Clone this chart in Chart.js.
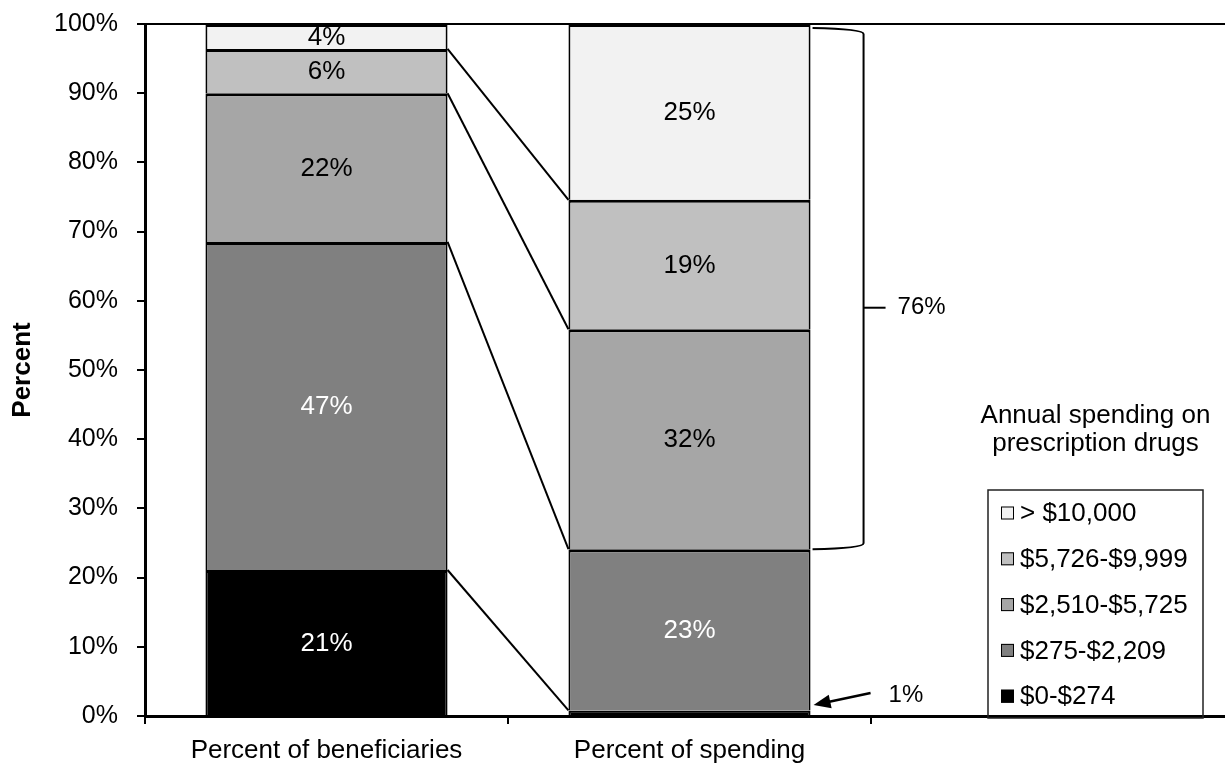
<!DOCTYPE html>
<html>
<head>
<meta charset="utf-8">
<script src="https://cdn.jsdelivr.net/npm/chart.js@4.4.0/dist/chart.umd.min.js"></script>
<style>
  html, body { margin: 0; padding: 0; background: #fff; overflow: hidden; }
  #wrap { width: 1240px; height: 769px; }
</style>
</head>
<body>
<div id="wrap"><canvas id="chart" width="1240" height="769"></canvas></div>
<script>
// ---- data ----
const categories    = ['Percent of beneficiaries', 'Percent of spending', ''];
const seriesLabels  = ['$0-$274', '$275-$2,209', '$2,510-$5,725', '$5,726-$9,999', '> $10,000'];
const beneficiaries = [21.1, 47.4, 21.5, 6.4, 3.6];
const spending      = [0.8, 23.3, 31.8, 18.7, 25.4];
const yTickValues   = [0, 10, 20, 30, 40, 50, 60, 70, 80, 90, 100];
const legendTitle   = ['Annual spending on', 'prescription drugs'];

// ---- styles ----
const seriesColors = ['#000000', '#808080', '#a6a6a6', '#c0c0c0', '#f2f2f2'];
const labelColors  = ['#ffffff', '#ffffff', '#000000', '#000000', '#000000'];
const FONT = "'Liberation Sans', Arial, sans-serif";

// brackets, arrow, connectors, value labels, legend
const annotPlugin = {
  id: 'annot',
  afterDatasetsDraw(chart) {
    const ctx = chart.ctx;
    const metas = chart.data.datasets.map((_, i) => chart.getDatasetMeta(i));
    ctx.save();

    // connector lines between the bars
    ctx.strokeStyle = '#000';
    ctx.lineWidth = 2;
    for (let k = 0; k < metas.length - 1; k++) {
      const a = metas[k].data[0], b = metas[k].data[1];
      ctx.beginPath();
      ctx.moveTo(a.x + a.width / 2, a.y);
      ctx.lineTo(b.x - b.width / 2, b.y);
      ctx.stroke();
    }

    // value labels
    ctx.font = '26px ' + FONT;
    ctx.textAlign = 'center';
    ctx.textBaseline = 'middle';
    metas.forEach((m, i) => m.data.forEach((el, j) => {
      const v = chart.data.datasets[i].data[j];
      if (v == null || v < 2) return;
      ctx.fillStyle = labelColors[i];
      ctx.fillText(Math.round(v) + '%', el.x, (el.y + el.base) / 2 + 1);
    }));
    ctx.restore();
  },
  afterDraw(chart) {
    const ctx = chart.ctx;
    const y = chart.scales.y;
    const bar = chart.getDatasetMeta(1).data[1];
    const right = bar.x + bar.width / 2;
    ctx.save();
    ctx.strokeStyle = '#000';
    ctx.fillStyle = '#000';

    // bracket over the top three spending segments
    const x0 = right + 2, xb = right + 53;
    const yTop = y.getPixelForValue(100) + 4;
    const yBot = bar.y;
    ctx.lineWidth = 2;
    ctx.beginPath();
    ctx.moveTo(x0, yTop);
    ctx.quadraticCurveTo(xb, yTop + 1, xb, yTop + 6);
    ctx.lineTo(xb, yBot - 6);
    ctx.quadraticCurveTo(xb, yBot - 1, x0, yBot);
    ctx.stroke();
    const yMid = y.getPixelForValue(59);
    ctx.beginPath();
    ctx.moveTo(xb, yMid);
    ctx.lineTo(xb + 22, yMid);
    ctx.stroke();
    const topShare = spending.slice(2).reduce((s, v) => s + v, 0);
    ctx.font = '24px ' + FONT;
    ctx.textAlign = 'left';
    ctx.textBaseline = 'middle';
    ctx.fillText(Math.round(topShare) + '%', xb + 34, yMid);

    // arrow to the smallest spending segment
    const base = y.getPixelForValue(0);
    const tipX = right + 3, tipY = base - 11;
    const tailX = right + 60, tailY = base - 23;
    const ang = Math.atan2(tipY - tailY, tipX - tailX);
    ctx.lineWidth = 2.5;
    ctx.beginPath();
    ctx.moveTo(tailX, tailY);
    ctx.lineTo(tipX - 10 * Math.cos(ang), tipY - 10 * Math.sin(ang));
    ctx.stroke();
    ctx.beginPath();
    ctx.moveTo(tipX, tipY);
    ctx.lineTo(tipX - 17 * Math.cos(ang) + 7 * Math.sin(ang), tipY - 17 * Math.sin(ang) - 7 * Math.cos(ang));
    ctx.lineTo(tipX - 17 * Math.cos(ang) - 7 * Math.sin(ang), tipY - 17 * Math.sin(ang) + 7 * Math.cos(ang));
    ctx.closePath();
    ctx.fill();
    ctx.fillText(Math.round(spending[0]) + '%', tailX + 18, base - 21);

    // legend
    const lx = 988, ly = 490, lw = 215, lh = 228;
    ctx.font = '26px ' + FONT;
    ctx.textAlign = 'center';
    ctx.fillText(legendTitle[0], lx + lw / 2, 416);
    ctx.fillText(legendTitle[1], lx + lw / 2, 444);
    ctx.lineWidth = 1.5;
    ctx.strokeStyle = '#222';
    ctx.strokeRect(lx, ly, lw, lh);
    ctx.textAlign = 'left';
    const n = chart.data.datasets.length;
    for (let r = 0; r < n; r++) {
      const ds = chart.data.datasets[n - 1 - r];
      const cy = 513 + r * 45.8;
      ctx.fillStyle = ds.backgroundColor;
      ctx.fillRect(lx + 13, cy - 6.5, 13, 13);
      ctx.lineWidth = 1;
      ctx.strokeStyle = '#000';
      ctx.strokeRect(lx + 13.5, cy - 6, 12, 12);
      ctx.fillStyle = '#000';
      ctx.fillText(ds.label, lx + 32, cy + 1);
    }
    ctx.restore();
  }
};

const ctx = document.getElementById('chart').getContext('2d');
new Chart(ctx, {
  type: 'bar',
  data: {
    labels: categories,
    datasets: seriesLabels.map((label, i) => ({
      label: label,
      data: [beneficiaries[i], spending[i], null],
      backgroundColor: seriesColors[i],
      borderColor: '#000',
      borderWidth: { top: 3, left: 2, right: 2, bottom: 0 },
      borderSkipped: false,
      inflateAmount: 0,
      barPercentage: 0.667,
      categoryPercentage: 1
    }))
  },
  options: {
    responsive: false,
    animation: false,
    devicePixelRatio: 1,
    layout: { padding: { top: 24, right: 6, bottom: 0, left: 0 } },
    plugins: { legend: { display: false }, tooltip: { enabled: false } },
    scales: {
      x: {
        stacked: true,
        grid: { drawOnChartArea: false, offset: true, tickLength: 8, color: '#000', lineWidth: 2 },
        border: { color: '#000', width: 3 },
        ticks: { color: '#000', font: { family: FONT, size: 26 }, padding: 11, maxRotation: 0, autoSkip: false },
        afterFit: s => { s.height = 53; s.paddingLeft = 0; s.paddingRight = 0; }
      },
      y: {
        stacked: true,
        min: 0,
        max: 100,
        afterBuildTicks: s => { s.ticks = yTickValues.map(v => ({ value: v })); },
        ticks: { callback: v => v + '%', color: '#000', font: { family: FONT, size: 25 }, padding: 19 },
        grid: {
          color: c => (c.tick && c.tick.value === 100) ? '#000' : 'rgba(0,0,0,0)',
          tickColor: '#000',
          lineWidth: 2,
          tickLength: 8
        },
        border: { color: '#000', width: 3 },
        title: {
          display: true,
          text: 'Percent',
          color: '#000',
          font: { family: FONT, size: 26, weight: 'bold' },
          padding: { top: 7, bottom: 0 }
        },
        afterFit: s => { s.width = 145; s.paddingTop = 0; s.paddingBottom = 0; }
      }
    }
  },
  plugins: [annotPlugin]
});
</script>
</body>
</html>
